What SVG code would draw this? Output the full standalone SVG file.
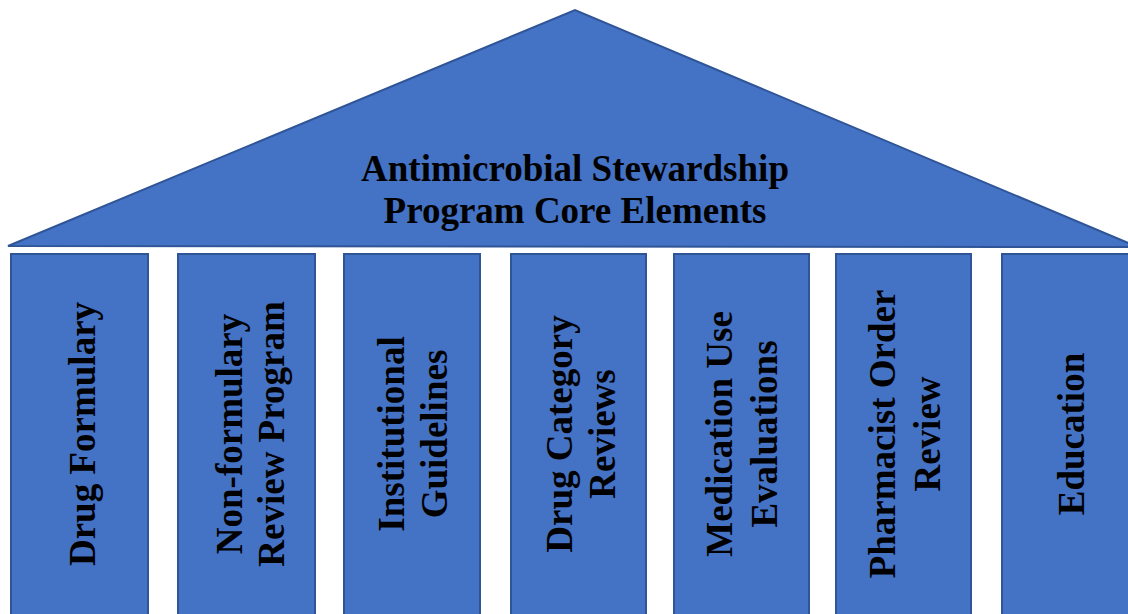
<svg xmlns="http://www.w3.org/2000/svg" width="1128" height="614" viewBox="0 0 1128 614">
<style>
.s{fill:#4472C4;stroke:#2F5597;stroke-width:2}
.t{font-family:"Liberation Serif","Times New Roman",serif;font-weight:bold;font-size:37px;fill:#000;text-anchor:middle}
</style>
<rect width="1128" height="614" fill="#fff"/>
<g id="roof">
<polygon class="s" points="8,246 575,10 1138,247"/>
<text class="t" x="575" y="181">Antimicrobial Stewardship</text>
<text class="t" x="575" y="223">Program Core Elements</text>
</g>
<g id="pillar1">
<rect class="s" x="11" y="254" width="137" height="370"/>
<text class="t" transform="translate(95,434) rotate(-90)">Drug Formulary</text>
</g>
<g id="pillar2">
<rect class="s" x="178" y="254" width="137" height="370"/>
<text class="t" transform="translate(242,434) rotate(-90)">Non-formulary</text>
<text class="t" transform="translate(284,434) rotate(-90)">Review Program</text>
</g>
<g id="pillar3">
<rect class="s" x="344" y="254" width="136" height="370"/>
<text class="t" transform="translate(404,434) rotate(-90)">Institutional</text>
<text class="t" transform="translate(447,434) rotate(-90)">Guidelines</text>
</g>
<g id="pillar4">
<rect class="s" x="511" y="254" width="135" height="370"/>
<text class="t" transform="translate(572,434) rotate(-90)">Drug Category</text>
<text class="t" transform="translate(615,434) rotate(-90)">Reviews</text>
</g>
<g id="pillar5">
<rect class="s" x="674" y="254" width="135" height="370"/>
<text class="t" transform="translate(732,434) rotate(-90)">Medication Use</text>
<text class="t" transform="translate(777,434) rotate(-90)">Evaluations</text>
</g>
<g id="pillar6">
<rect class="s" x="836" y="254" width="135" height="370"/>
<text class="t" transform="translate(895,434) rotate(-90)">Pharmacist Order</text>
<text class="t" transform="translate(940,434) rotate(-90)">Review</text>
</g>
<g id="pillar7">
<rect class="s" x="1002" y="254" width="140" height="370"/>
<text class="t" transform="translate(1084,434) rotate(-90)">Education</text>
</g>
<g id="connectors"/>
</svg>
